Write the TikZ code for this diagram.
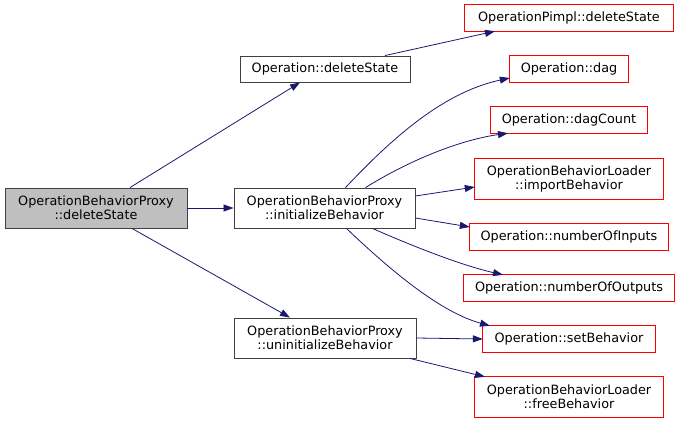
\documentclass[tikz,border=0pt]{standalone}
\usepackage{fontspec}
\setmainfont{DejaVu Sans}
\usetikzlibrary{arrows.meta}
\definecolor{edgeblue}{HTML}{191970}
\definecolor{rootgray}{HTML}{BFBFBF}
\definecolor{boxgray}{HTML}{404040}
\definecolor{boxred}{HTML}{FF0000}
\begin{document}
\begin{tikzpicture}[x=1pt,y=-1pt]
    \tikzstyle{func}=[rectangle,draw=boxgray,line width=0.9pt,inner sep=0pt,align=center,font=\fontsize{12.8}{14}\selectfont]
    \tikzstyle{extfunc}=[rectangle,inner sep=0pt,align=center,font=\fontsize{12.8}{14}\selectfont]
    \tikzstyle{extframe}=[draw=boxred,line width=0.9pt]
    \tikzstyle{call}=[draw=edgeblue,line width=0.8pt,-{Triangle[length=10pt,width=7pt,fill=edgeblue]}]
    \useasboundingbox (0,0) rectangle (680,423);

    \node[func,fill=rootgray,minimum width=182pt,minimum height=40pt] (root) at (96,208) {OperationBehaviorProxy\\::deleteState};
    \foreach \name/\x/\y/\w/\h/\txt in {opdel/325/69/170/26/{Operation::deleteState},
                                      init/324.5/208/181/40/{OperationBehaviorProxy\\::initializeBehavior},
                                      uninit/325/338/182/40/{OperationBehaviorProxy\\::uninitializeBehavior}}
            \node[func,minimum width=\w pt,minimum height=\h pt] (\name) at (\x,\y) {\txt};

    \foreach \name/\y/\w/\h/\txt in {pimpl/18/208/26/{OperationPimpl::deleteState},
                                   dag/69/118/26/{Operation::dag},
                                   dagcount/120/156/26/{Operation::dagCount},
                                   import/179/188/40/{OperationBehaviorLoader\\::importBehavior},
                                   ninputs/237/198/26/{Operation::numberOfInputs},
                                   noutputs/288/211/26/{Operation::numberOfOutputs},
                                   setbeh/339/172/26/{Operation::setBehavior},
                                   freebeh/397/188/40/{OperationBehaviorLoader\\::freeBehavior}}
            \node[extfunc,minimum width=\w pt,minimum height=\h pt] (\name) at (569,\y) {\txt};

        % red frames of the functions that are not documented here
        \foreach \name in {pimpl, dag, dagcount, import, ninputs, noutputs, setbeh, freebeh}
            \draw[extframe] (\name.south west) rectangle (\name.north east);

        \draw[call] ([xshift=34pt]root.north) -- ([xshift=-25pt]opdel.south);
        \draw[call] (root.east) -- (init.west);
        \draw[call] ([xshift=36pt]root.south) -- ([xshift=-35pt]uninit.north);
        \draw[call] ([xshift=60pt]opdel.north) -- ([xshift=-74pt]pimpl.south);

        \draw[call] ([xshift=21pt]init.north) .. controls (395,135) and (445,92) .. ([yshift=-9pt]dag.west);
        \draw[call] ([xshift=41pt]init.north) .. controls (410,160) and (460,140) .. ([xshift=-61pt]dagcount.south);
        \draw[call] ([yshift=12pt]init.east) -- ([yshift=-8pt]import.west);
        \draw[call] ([yshift=-10pt]init.east) -- ([yshift=10pt]ninputs.west);
        \draw[call] ([xshift=48pt]init.south) .. controls (410,245) and (460,265) .. ([xshift=-66pt]noutputs.north);
        \draw[call] ([xshift=22pt]init.south) .. controls (390,270) and (440,312) .. ([xshift=-79pt]setbeh.north);

        \draw[call] (uninit.east) -- (setbeh.west);
        \draw[call] ([xshift=85pt]uninit.south) -- ([xshift=-84pt]freebeh.north);
\end{tikzpicture}
\end{document}
